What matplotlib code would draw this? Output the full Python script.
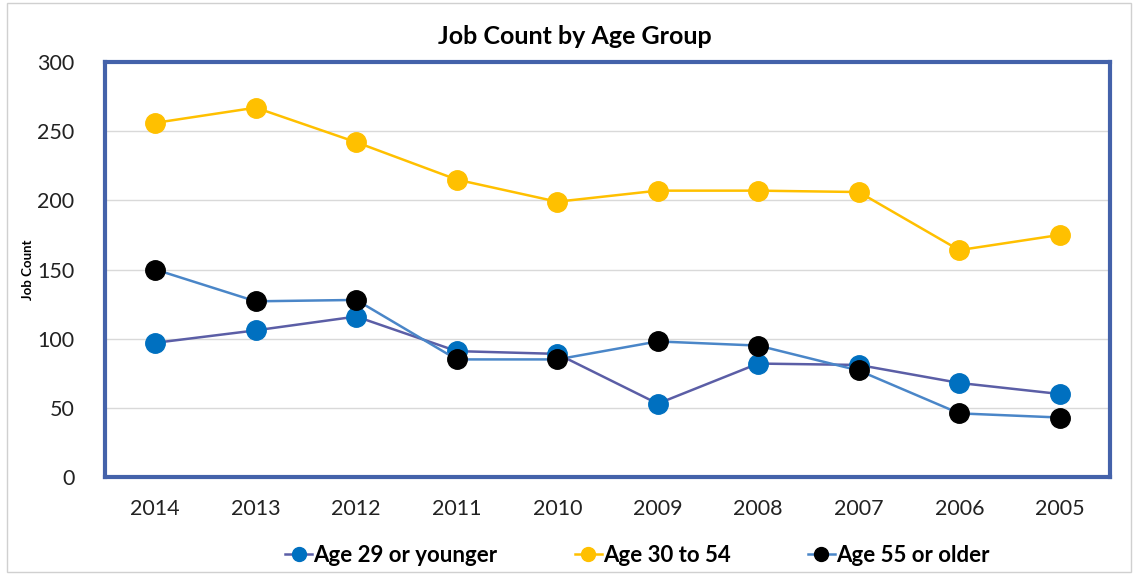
import matplotlib
matplotlib.use("Agg")
import matplotlib.pyplot as plt
from matplotlib.patches import Rectangle

years = ["2014", "2013", "2012", "2011", "2010", "2009", "2008", "2007", "2006", "2005"]
young = [97, 106, 116, 91, 89, 53, 82, 81, 68, 60]
middle = [256, 267, 242, 215, 199, 207, 207, 206, 164, 175]
older = [150, 127, 128, 85, 85, 98, 95, 77, 46, 43]

plt.rcParams['font.family'] = ['Lato', 'DejaVu Sans']

fig = plt.figure(figsize=(11.34, 5.77), dpi=100)
ax = fig.add_axes([105/1134, 1 - 477/577, 1005/1134, 415/577])

x = range(len(years))
ax.plot(x, young, '-o', color='#5B5EA6', mfc='#0070C0', mec='#0070C0',
        lw=1.8, ms=14, label='Age 29 or younger', zorder=3)
ax.plot(x, middle, '-o', color='#FFC000', mfc='#FFC000', mec='#FFC000',
        lw=1.8, ms=14, label='Age 30 to 54', zorder=3)
ax.plot(x, older, '-o', color='#4A86C8', mfc='black', mec='black',
        lw=1.8, ms=14, label='Age 55 or older', zorder=4)

ax.set_xlim(-0.5, len(years) - 0.5)
ax.set_ylim(0, 300)
ax.set_yticks(range(0, 301, 50))
ax.set_xticks(list(x))
ax.set_xticklabels(years)
ax.tick_params(axis='both', length=0, labelsize=15.5, colors='#222222')
ax.tick_params(axis='y', pad=22)
ax.tick_params(axis='x', pad=16)
ax.grid(axis='y', color='#d9d9d9', lw=1)
ax.set_axisbelow(True)
for s in ax.spines.values():
    s.set_color('#4462AA')
    s.set_linewidth(3)

fig.text(575/1134, 1 - 37/577, 'Job Count by Age Group', fontsize=18,
         fontweight='bold', ha='center', va='center')
fig.text(28/1134, 1 - 270/577, 'Job Count', fontsize=9.5, fontweight='bold',
         rotation=90, ha='center', va='center')

leg = fig.legend(loc='center', bbox_to_anchor=(0.562, 1 - 555/577), ncol=3,
                 frameon=False, prop={'weight': 'bold', 'size': 16},
                 columnspacing=3.5, handlelength=1.2, handletextpad=0.05)
for h in leg.legend_handles:
    h.set_markersize(10)

fig.patches.append(Rectangle((7/1134, 1 - 572/577), 1124/1134, 569/577,
                             transform=fig.transFigure, fill=False,
                             edgecolor='#d0d0d0', lw=1))

fig.savefig('out.png', dpi=100)
